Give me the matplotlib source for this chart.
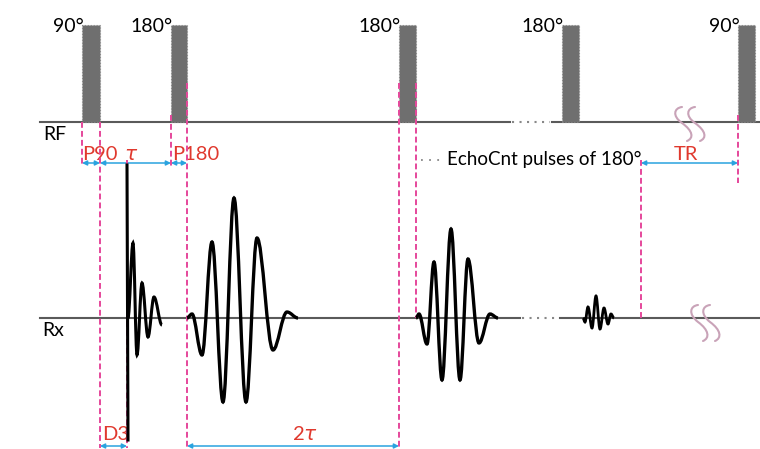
"""
CPMG pulse sequence sketch: RF pulses on top, received FID and echoes below,
with timing markers (P90, tau, P180, D3, 2tau, TR).
"""

import matplotlib
matplotlib.use("Agg")
import matplotlib.pyplot as plt
from matplotlib.path import Path
from matplotlib.patches import PathPatch

# ── sequence data (time axis in drawing units) ─────────────────────────────
pulse_start = [82, 171, 399, 562, 738]
pulse_width = [18, 16, 17, 17, 17]
pulse_label = ["90°", "180°", "180°", "180°", "90°"]
pulse_height = 97

# FID after the 90° pulse: extrema (time, amplitude up = positive)
fid_spike = [165, 440]
fid_t = [128, 133, 137, 142, 148, 154, 162]
fid_a = [0, 75, -37, 35, -19, 21, -7]

# spin echoes: extrema (time, amplitude)
echo1_t = [187, 192, 202, 212, 223, 234, 246, 257, 273, 287, 298]
echo1_a = [0, 4, -37, 76, -84, 120, -84, 80, -32, 6, 0]
echo2_t = [416, 419, 427, 434, 442, 451, 460, 468, 479, 490, 498]
echo2_a = [0, 4, -26, 56, -62, 89, -62, 59, -25, 4, 0]
echo3_t = [583, 585, 588, 592, 596, 600, 604, 608, 611, 614]
echo3_a = [0, -4, 11, -10, 22, -11, 10, -6, 4, 0]

# ── layout / style ─────────────────────────────────────────────────────────
RF_Y, RX_Y = 122, 318
PINK = "#e5489b"
CYAN = "#2aa3df"
RED = "#e0392e"
GREY = "#5a5a5a"
FONT = ["Lato", "DejaVu Sans"]
plt.rcParams["font.family"] = FONT
plt.rcParams["mathtext.fontset"] = "dejavusans"

fig = plt.figure(figsize=(7.6, 4.49), dpi=100)
ax = fig.add_axes([0, 0, 1, 1])
ax.set_xlim(0, 760)
ax.set_ylim(449, 0)
ax.axis("off")


def wave_path(ts, amps, base):
    """Smooth curve through extrema, horizontal tangent at each one."""
    verts = [(ts[0], base - amps[0])]
    codes = [Path.MOVETO]
    for i in range(len(ts) - 1):
        x0, y0 = ts[i], base - amps[i]
        x1, y1 = ts[i + 1], base - amps[i + 1]
        k = 0.36 * (x1 - x0)
        verts += [(x0 + k, y0), (x1 - k, y1), (x1, y1)]
        codes += [Path.CURVE4] * 3
    return Path(verts, codes)


def squiggle(x0, yt, yb):
    """Tall slanted S used as a time-break mark."""
    ym = 0.5 * (yt + yb)
    verts = [(x0 + 6, yt),
             (x0 - 2, yt + 1), (x0 - 4, yt + 9), (x0 + 6, ym - 1),
             (x0 + 17, ym + 7), (x0 + 18, yb - 3), (x0 + 11, yb)]
    codes = [Path.MOVETO] + [Path.CURVE4] * 6
    return PathPatch(Path(verts, codes), fill=False, ec="#c9a3b8", lw=1.5,
                     capstyle="round", zorder=4)


def darrow(x0, x1, y):
    ax.annotate("", xy=(x1, y), xytext=(x0, y),
                arrowprops=dict(arrowstyle="<|-|>", color=CYAN, lw=1.1,
                                mutation_scale=7, shrinkA=0, shrinkB=0),
                zorder=5)


def vdash(x, y0, y1):
    ax.plot([x, x], [y0, y1], color=PINK, lw=1.4, ls=(0, (3, 1.6)), zorder=6)


# ── baselines ──────────────────────────────────────────────────────────────
ax.plot([40, 510], [RF_Y, RF_Y], color=GREY, lw=1.5, zorder=1)
ax.plot([512, 550], [RF_Y, RF_Y], color="#888888", lw=1.5, ls=(0, (1, 2.6)))
ax.plot([552, 760], [RF_Y, RF_Y], color=GREY, lw=1.5, zorder=1)
ax.plot([40, 520], [RX_Y, RX_Y], color=GREY, lw=1.5, zorder=1)
ax.plot([522, 558], [RX_Y, RX_Y], color="#888888", lw=1.5, ls=(0, (1, 2.6)))
ax.plot([560, 760], [RX_Y, RX_Y], color=GREY, lw=1.5, zorder=1)

# ── RF pulses ──────────────────────────────────────────────────────────────
ax.bar(pulse_start, [-pulse_height] * len(pulse_start), width=pulse_width,
       bottom=RF_Y, align="edge", color="#6f6f6f", edgecolor="#8a8a8a",
       lw=0.8, ls=":", zorder=2)
for x, lab in zip(pulse_start, pulse_label):
    ax.text(x + 2, 26, lab, ha="right", va="center", fontsize=14,
            color="black")

# ── received signal ────────────────────────────────────────────────────────
ax.plot([fid_t[0] - 1, fid_t[0]], fid_spike, color="black", lw=2.2,
        zorder=7)
ax.add_patch(PathPatch(wave_path(fid_t, fid_a, RX_Y), fill=False,
                       ec="black", lw=2.2, zorder=7))
for ts, amps in [(echo1_t, echo1_a), (echo2_t, echo2_a), (echo3_t, echo3_a)]:
    lw = 2.4 if ts is not echo3_t else 2.0
    ax.add_patch(PathPatch(wave_path(ts, amps, RX_Y), fill=False,
                           ec="black", lw=lw, zorder=7))

# ── break marks ────────────────────────────────────────────────────────────
for x in (676, 689):
    ax.add_patch(squiggle(x, 107, 141))
for x in (692, 704):
    ax.add_patch(squiggle(x, 305, 341))

# ── timing markers ─────────────────────────────────────────────────────────
p90_end = pulse_start[0] + pulse_width[0]
p180_start = pulse_start[1]
p180_end = pulse_start[1] + pulse_width[1]
echo_pulse = pulse_start[2]
vdash(pulse_start[0], RF_Y, 166)
vdash(p90_end, RF_Y, 448)
vdash(fid_t[0] - 1, 160, 448)
vdash(p180_start, 115, 166)
vdash(p180_end, 83, 448)
vdash(echo_pulse, 83, 448)
vdash(echo_pulse + pulse_width[2], 83, RX_Y)
vdash(641, 160, RX_Y)
vdash(pulse_start[4], 115, 183)

ARROW_Y, BOTTOM_Y = 163, 446
darrow(pulse_start[0], p90_end, ARROW_Y)
darrow(p90_end, p180_start, ARROW_Y)
darrow(p180_start, p180_end, ARROW_Y)
darrow(641, pulse_start[4], ARROW_Y)
darrow(p90_end, fid_t[0] - 1, BOTTOM_Y)
darrow(p180_end, echo_pulse, BOTTOM_Y)

ax.text(82, 154, "P90", color=RED, fontsize=14.5, ha="left", va="center")
ax.text(131, 154, r"$\tau$", color=RED, fontsize=14.5, ha="center",
        va="center")
ax.text(172, 154, "P180", color=RED, fontsize=14.5, ha="left", va="center")
ax.text(686, 154, "TR", color=RED, fontsize=14.5, ha="center", va="center")
ax.text(102, 434, "D3", color=RED, fontsize=14.5, ha="left", va="center")
ax.text(305, 434, r"2$\tau$", color=RED, fontsize=14.5, ha="center",
        va="center")

# ── row labels and annotation ──────────────────────────────────────────────
ax.text(43, 135, "RF", fontsize=14, ha="left", va="center")
ax.text(42, 330, "Rx", fontsize=14, ha="left", va="center")
ax.plot([421, 441], [160, 160], color="#888888", lw=1.3, ls=(0, (1, 3.5)))
ax.text(447, 159, "EchoCnt pulses of 180°", fontsize=13.5, ha="left",
        va="center")

fig.savefig("out.png", dpi=100)
